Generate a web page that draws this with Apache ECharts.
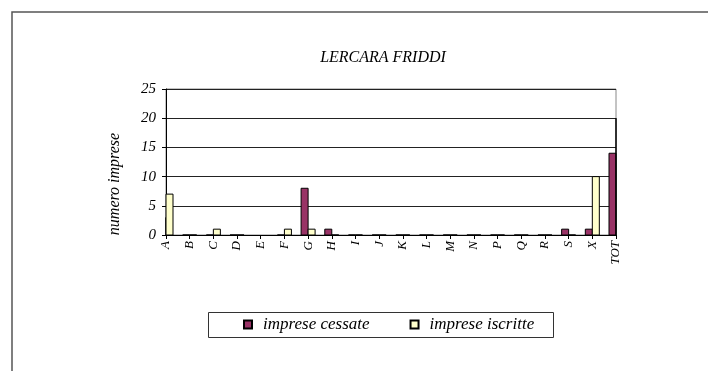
<!DOCTYPE html>
<html>
<head>
<meta charset="utf-8">
<script src="https://cdn.jsdelivr.net/npm/echarts@6/dist/echarts.min.js"></script>
<style>html,body{margin:0;padding:0;background:#fff;}#c{width:708px;height:371px;}</style>
</head>
<body>
<div id="c"></div>
<script>
const categories = ['A','B','C','D','E','F','G','H','I','J','K','L','M','N','P','Q','R','S','X','TOT'];
const cessate = [3,0,0,0,null,0,8,1,0,0,0,0,0,0,0,0,0,1,1,14];
const iscritte = [7,0,1,0,null,1,1,0,0,0,0,0,0,0,0,0,0,0,10,20];
const yTicks = [0,5,10,15,20,25];
const seriesNames = ['imprese cessate','imprese iscritte'];
const titleText = 'LERCARA FRIDDI';
const yName = 'numero imprese';

const FONT = 'Liberation Serif';
const BAR_W = 7;

function makeRender(offset) {
  return function (params, api) {
    const v = api.value(1);
    if (v == null || isNaN(v)) return null;
    const base = api.coord([api.value(0), 0]);
    const top = api.coord([api.value(0), v]);
    const cs = params.coordSys;
    const rect = echarts.graphic.clipRectByRect(
      {x: base[0] + offset, y: top[1], width: BAR_W, height: base[1] - top[1]},
      {x: cs.x, y: cs.y, width: cs.width, height: cs.height}
    );
    if (!rect) return null;
    return {type: 'rect', shape: rect, style: api.style({stroke: '#000', lineWidth: 1})};
  };
}

const chart = echarts.init(document.getElementById('c'), null, {renderer:'canvas'});
chart.setOption({
  animation: false,
  backgroundColor: '#fff',
  title: {
    text: titleText, left: 383, top: 50, textAlign: 'center', padding: 0,
    textStyle: {fontFamily: FONT, fontStyle: 'italic', fontWeight: 'normal', fontSize: 16, color: '#000'}
  },
  graphic: [
    {type: 'rect', shape: {x: 12, y: 12, width: 800, height: 500}, style: {fill: 'none', stroke: '#555', lineWidth: 1.5}, silent: true},
    {type: 'rect', shape: {x: 208.5, y: 312.5, width: 345, height: 25}, style: {fill: '#fff', stroke: '#333', lineWidth: 1}, silent: true, z: -1},
    {type: 'text', x: 115, y: 184, rotation: Math.PI / 2, silent: true,
     style: {text: yName, textAlign: 'center', textVerticalAlign: 'middle', fill: '#000',
             font: 'italic 16px "Liberation Serif"'}}
  ],
  legend: {
    data: seriesNames, left: 243, top: 316, padding: 0, itemWidth: 8, itemHeight: 8, itemGap: 40,
    icon: 'rect',
    textStyle: {fontFamily: FONT, fontStyle: 'italic', fontSize: 17, color: '#000', padding: [0, 0, 0, 6]}
  },
  grid: {left: 166, right: 92, top: 89, bottom: 136, show: true, borderColor: '#888', borderWidth: 1},
  xAxis: {
    type: 'category', data: categories, boundaryGap: false,
    axisLine: {lineStyle: {color: '#000', width: 1}},
    axisTick: {show: true, length: 4, lineStyle: {color: '#000'}, alignWithLabel: true},
    axisLabel: {rotate: 90, interval: 0, margin: 6, fontFamily: FONT, fontStyle: 'italic', fontSize: 13, color: '#000'},
    splitLine: {show: false}
  },
  yAxis: {
    type: 'value', min: yTicks[0], max: yTicks[yTicks.length-1], interval: 5,
    axisLine: {show: true, lineStyle: {color: '#000'}},
    axisTick: {show: true, length: 4, lineStyle: {color: '#000'}},
    axisLabel: {margin: 10, fontFamily: FONT, fontStyle: 'italic', fontSize: 15, color: '#000'},
    splitLine: {show: true, lineStyle: {color: '#222', width: 1}}
  },
  series: [
    {name: seriesNames[0], type: 'custom', renderItem: makeRender(-BAR_W),
     data: cessate.map((v, i) => [i, v]), encode: {x: 0, y: 1},
     itemStyle: {color: '#993366', borderColor: '#000', borderWidth: 1}},
    {name: seriesNames[1], type: 'custom', renderItem: makeRender(0),
     data: iscritte.map((v, i) => [i, v]), encode: {x: 0, y: 1},
     itemStyle: {color: '#FFFFCC', borderColor: '#000', borderWidth: 1}}
  ]
});
</script>
</body>
</html>
